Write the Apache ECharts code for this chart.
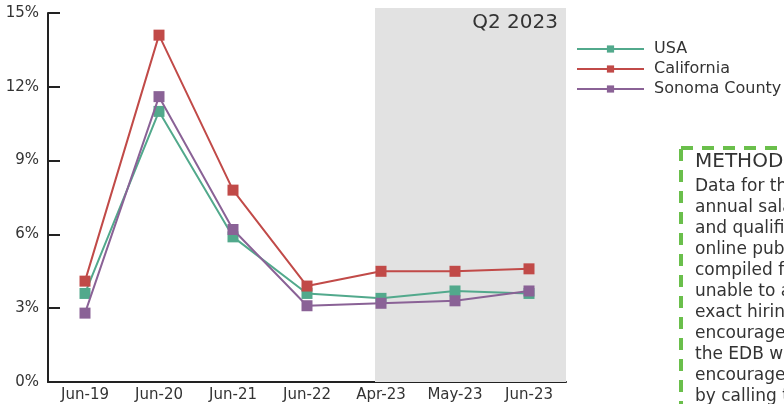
<!DOCTYPE html>
<html><head><meta charset="utf-8">
<script src="https://cdn.jsdelivr.net/npm/echarts@6/dist/echarts.min.js"></script>
<style>html,body{margin:0;padding:0;background:#fff}#c{width:784px;height:404px}</style>
</head><body><div id="c"></div>
<script>
const categories = ['Jun-19','Jun-20','Jun-21','Jun-22','Apr-23','May-23','Jun-23'];
const usa = [3.6, 11.0, 5.9, 3.6, 3.4, 3.7, 3.6];
const california = [4.1, 14.1, 7.8, 3.9, 4.5, 4.5, 4.6];
const sonoma = [2.8, 11.6, 6.2, 3.1, 3.2, 3.3, 3.7];
const yTicks = [0, 3, 6, 9, 12, 15];
const methodLines = ['Data for this report was', 'annual salary data', 'and qualifications from', 'online public postings', 'compiled from sources', 'unable to account for', 'exact hiring practices', 'encouraged to contact', 'the EDB with questions', 'encouraged to reach', 'by calling the office'];

const FONT = '"DejaVu Sans", sans-serif';
const chart = echarts.init(document.getElementById('c'), null, {renderer: 'canvas'});
function mk(name, data, color) {
  return {
    name, type: 'line', data, symbol: 'rect', symbolSize: 11,
    itemStyle: {color}, lineStyle: {color, width: 2},
    emphasis: {disabled: true}, animation: false
  };
}
const series = [mk('USA', usa, '#52a98c'), mk('California', california, '#c14a48'), mk('Sonoma County', sonoma, '#8a6296')];
series[0].z = 3; series[1].z = 4; series[2].z = 5;
series[0].markArea = {
  silent: true,
  itemStyle: {color: '#e2e2e2'},
  data: [[{x: 375, y: 8}, {x: 566, y: 382}]]
};
chart.setOption({
  animation: false,
  textStyle: {fontFamily: FONT},
  grid: {left: 48, top: 13, right: 218, bottom: 22},
  legend: {
    left: 576, top: 41, orient: 'vertical', padding: 0, itemWidth: 67, itemHeight: 9, itemGap: 4,
    textStyle: {fontSize: 16, lineHeight: 14, color: '#333', fontFamily: FONT, padding: [0, 0, 0, 5]},
    data: ['USA', 'California', 'Sonoma County']
  },
  xAxis: {
    type: 'category', data: categories, boundaryGap: true,
    axisLine: {lineStyle: {color: '#222', width: 2}},
    axisTick: {inside: true, length: 12, lineStyle: {color: '#222', width: 2}},
    axisLabel: {color: '#333', fontSize: 15, margin: 6}
  },
  yAxis: {
    type: 'value', min: yTicks[0], max: yTicks[yTicks.length - 1], interval: 3,
    axisLine: {show: true, lineStyle: {color: '#222', width: 2}},
    axisTick: {show: true, inside: true, length: 12, lineStyle: {color: '#222', width: 2}},
    splitLine: {show: false},
    axisLabel: {color: '#333', fontSize: 15, margin: 9, formatter: v => v + '%'}
  },
  graphic: [
    {type: 'text', right: 784 - 558, top: 13, z: 10, style: {text: 'Q2 2023', fontSize: 20, fill: '#333', fontFamily: FONT}},
    {type: 'rect', shape: {x: 681, y: 148, width: 200, height: 300}, style: {fill: 'none', stroke: '#6abf4b', lineWidth: 4, lineDash: [12, 9]}},
    {type: 'text', left: 695, top: 152, style: {text: 'METHODOLOGY', fontSize: 20, fill: '#333', fontFamily: FONT}},
    {type: 'text', left: 695, top: 176, style: {text: methodLines.join('\n'), fontSize: 17, lineHeight: 21, fill: '#333', fontFamily: FONT}}
  ],
  series
});
</script></body></html>
